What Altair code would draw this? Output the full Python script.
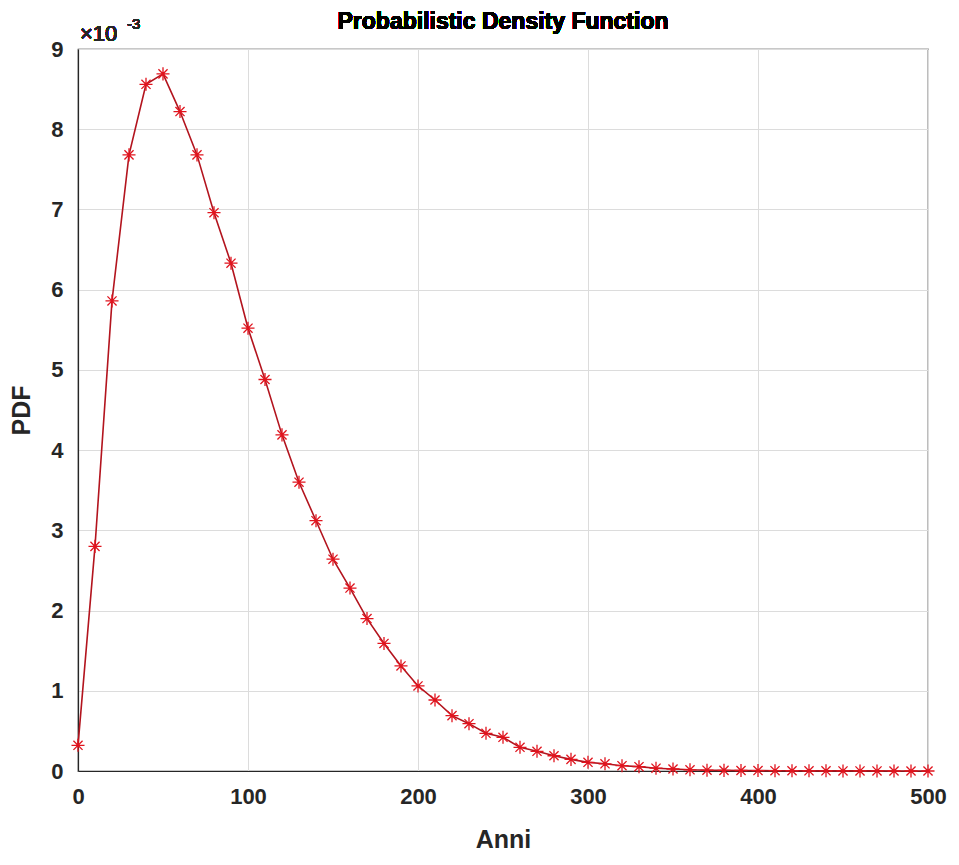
import altair as alt
import pandas as pd

# Years (x) and PDF values in units of 1e-3 (y)
years = list(range(0, 510, 10))
pdf_e3 = [0.32, 2.80, 5.86, 7.68, 8.56, 8.69, 8.22, 7.68, 6.96, 6.33,
          5.52, 4.88, 4.19, 3.60, 3.12, 2.64, 2.28, 1.90, 1.59, 1.31,
          1.06, 0.885, 0.69, 0.59, 0.47, 0.42, 0.295, 0.245, 0.19, 0.145,
          0.108, 0.09, 0.066, 0.054, 0.035, 0.025, 0.015, 0.01, 0.008, 0.006,
          0.005, 0.004, 0.003, 0.002, 0.002, 0.001, 0.001, 0.001, 0.0, 0.0, 0.0]

x_ticks = [0, 100, 200, 300, 400, 500]
y_ticks = [0, 1, 2, 3, 4, 5, 6, 7, 8, 9]

title_text = "Probabilistic Density Function"

df = pd.DataFrame({"Anni": years, "PDF": pdf_e3})

FONT = "Liberation Sans"
TXT = "#262626"

x_enc = alt.X("Anni:Q", scale=alt.Scale(domain=[0, 500], nice=False),
              axis=alt.Axis(values=x_ticks, title="Anni", grid=True, format="d",
                            gridColor="#dcdcdc", gridWidth=1, labelFlush=False,
                            domainColor="#262626", domainWidth=1.2,
                            tickSize=0, labelPadding=15,
                            labelFont=FONT, labelFontSize=22, labelFontWeight="bold",
                            labelColor=TXT, titleFont=FONT, titleFontSize=25,
                            titleFontWeight="bold", titleColor=TXT, titlePadding=20))
y_enc = alt.Y("PDF:Q", scale=alt.Scale(domain=[0, 9], nice=False),
              axis=alt.Axis(values=y_ticks, title="PDF", grid=True, format="d",
                            gridColor="#dcdcdc", gridWidth=1, labelFlush=False,
                            domainColor="#262626", domainWidth=1.2,
                            tickSize=0, labelPadding=15,
                            labelFont=FONT, labelFontSize=22, labelFontWeight="bold",
                            labelColor=TXT, titleFont=FONT, titleFontSize=25,
                            titleFontWeight="bold", titleColor=TXT, titlePadding=16))

line = alt.Chart(df).mark_line(color="#b3141e", strokeWidth=1.6).encode(x=x_enc, y=y_enc)

star = "M-1,0L1,0M0,-1L0,1M-0.7,-0.7L0.7,0.7M-0.7,0.7L0.7,-0.7"
points = alt.Chart(df).mark_point(shape=star, filled=False, color="#e0141e",
                                  strokeWidth=1.3, size=170, opacity=1).encode(x="Anni:Q", y="PDF:Q")

expo_main = alt.Chart(df).mark_text(text="\u00d710", font=FONT, fontSize=22, color=TXT,
                                    align="left", baseline="alphabetic").encode(
    x=alt.value(2), y=alt.value(-8))
expo_sup = alt.Chart(df).mark_text(text="-3", font=FONT, fontSize=15, color=TXT,
                                   align="left", baseline="alphabetic").encode(
    x=alt.value(49), y=alt.value(-20))
title = alt.Chart(df).mark_text(text=title_text, font=FONT, fontSize=23, fontWeight="bold",
                                color="#000000", align="center", baseline="middle").encode(
    x=alt.value(425), y=alt.value(-27))

chart = alt.layer(line, points, expo_main, expo_sup, title).properties(
    width=850, height=722,
    autosize=alt.AutoSizeParams(type="none"),
    padding={"left": 70, "top": 41, "right": 20, "bottom": 85},
).configure_view(stroke="#262626", strokeWidth=1.2)

chart.save("out.html", embed_options={"renderer": "svg", "actions": False})
